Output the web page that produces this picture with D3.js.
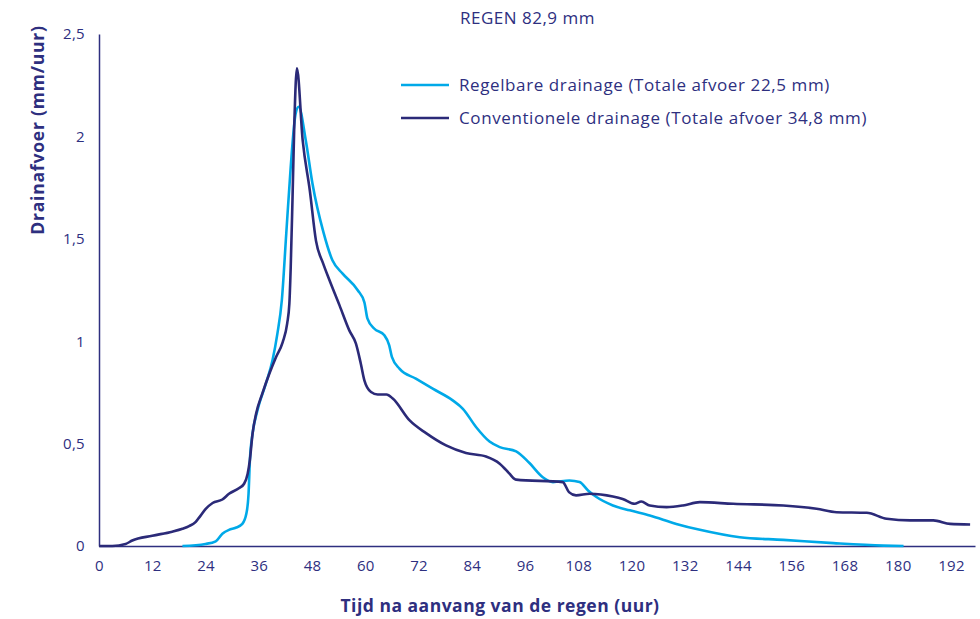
<!DOCTYPE html>
<html>
<head>
<meta charset="utf-8">
<script src="https://cdn.jsdelivr.net/npm/d3@7"></script>
<style>
  body { margin: 0; background: #fff; }
  svg { display: block; }
  text { font-family: "Open Sans", Lato, sans-serif; fill: #2e2f7f; }
</style>
</head>
<body>
<svg id="chart" width="980" height="619"></svg>
<script>
/**
 * Data.
 */
const chartTitle = 'REGEN 82,9 mm';
const xTicks = [0, 12, 24, 36, 48, 60, 72, 84, 96, 108, 120, 132, 144, 156, 168, 180, 192];
const yTicks = [0, 0.5, 1, 1.5, 2, 2.5];
const seriesNames = ['Regelbare drainage (Totale afvoer 22,5 mm)', 'Conventionele drainage (Totale afvoer 34,8 mm)'];

// Regelbare drainage
const regHours = [18.8, 24, 26.3, 27.8, 29.3, 30.8, 32.3, 33.2, 33.7, 34, 34.6, 35.7, 37.6, 39.1, 40.2, 41.2,
    42.2, 43.2, 44.3, 45, 46.6, 48.1, 50.6, 52.6, 54.9, 58.3, 59.8, 60.5, 62, 64.3, 65.4, 66, 67.7, 71.4,
    75.2, 79.7, 82, 85, 88, 90.3, 94, 97, 100, 102.3, 106, 108.3, 110.2, 112.1, 115.8, 119.6, 124.1, 130.1,
    135.4, 144.4, 154.2, 165.5, 176.7, 181.3];
const regFlow = [0, 0.01, 0.023, 0.06, 0.079, 0.089, 0.108, 0.157, 0.255, 0.418, 0.548, 0.662, 0.793, 0.907, 1.037, 1.2,
    1.526, 1.85, 2.11, 2.145, 1.98, 1.77, 1.53, 1.395, 1.33, 1.249, 1.19, 1.11, 1.062, 1.029, 0.98, 0.923, 0.866, 0.817,
    0.768, 0.711, 0.67, 0.58, 0.51, 0.483, 0.462, 0.405, 0.336, 0.312, 0.32, 0.312, 0.271, 0.239, 0.198, 0.174, 0.149, 0.108,
    0.079, 0.043, 0.03, 0.014, 0.002, 0];

// Conventionele drainage
const convHours = [0, 3, 6, 7.5, 12, 16.5, 18.8, 20.3, 21.8, 22.6, 24, 25.6, 27.8, 29.3, 31.6, 32.7, 33.5, 34,
    34.6, 35.4, 36.8, 38.4, 39.9, 41.4, 42.4, 42.9, 43.2, 43.6, 44, 44.6, 45.9, 47.5, 48.9, 50.5, 51.9, 54.2, 56.4,
    57.9, 59, 59.8, 61.3, 62.8, 64.8, 66.2, 70, 73.7, 78.2, 82.7, 87.2, 90.3, 92.5, 93.6, 94, 104.5, 105.9, 107.5,
    110.6, 115.8, 118, 120.7, 122.2, 124.1, 127.9, 131.6, 135.4, 142.9, 154.2, 161.7, 166.2, 173, 177.5, 182.8,
    188, 191.8, 196.3];
const convFlow = [0, 0, 0.01, 0.027, 0.05, 0.07, 0.084, 0.097, 0.118, 0.14, 0.18, 0.21, 0.227, 0.255, 0.283, 0.304, 0.353, 0.42,
    0.548, 0.646, 0.744, 0.842, 0.923, 0.996, 1.086, 1.185, 1.36, 1.69, 2.05, 2.332, 1.98, 1.737, 1.49, 1.38, 1.3, 1.175, 1.053,
    0.988, 0.89, 0.809, 0.752, 0.74, 0.74, 0.72, 0.613, 0.551, 0.491, 0.454, 0.437, 0.402, 0.353, 0.328, 0.324, 0.312, 0.263, 0.247,
    0.255, 0.242, 0.23, 0.206, 0.217, 0.198, 0.19, 0.198, 0.214, 0.206, 0.198, 0.182, 0.165, 0.162, 0.133, 0.125,
    0.125, 0.108, 0.105];

/**
 * Visual configs.
 */
const margin = { top: 34, right: 5, bottom: 73, left: 99 };
const visWidth = 980, visHeight = 619,
    width = visWidth - margin.left - margin.right,
    height = visHeight - margin.top - margin.bottom;

const colors = { reg: '#00a9e8', conv: '#2b2a78', text: '#2e2f7f' };

const svg = d3.select('#chart');
const g = svg.append('g').attr('transform', 'translate(' + margin.left + ',' + margin.top + ')');

const x = d3.scaleLinear().domain([0, 197.4]).range([0, width]);
const y = d3.scaleLinear().domain([0, 2.5]).range([height, 0]);

const fmt = d => String(d).replace('.', ',');

// Axes
const xAxis = g.append('g').attr('transform', 'translate(0,' + height + ')')
    .call(d3.axisBottom(x).tickValues(xTicks).tickSize(0).tickPadding(14).tickFormat(fmt));
const yAxis = g.append('g')
    .call(d3.axisLeft(y).tickValues(yTicks).tickSize(0).tickPadding(14).tickFormat(fmt));

[xAxis, yAxis].forEach(a => {
    a.select('.domain').attr('stroke', colors.text).attr('stroke-width', 1.5);
    a.selectAll('text').attr('font-size', 15).attr('fill', colors.text)
        .style('font-family', '"Open Sans", sans-serif')
        .attr('letter-spacing', 0.3);
});

// Lines
const line = d3.line()
    .x(d => x(d[0]))
    .y(d => y(d[1]))
    .curve(d3.curveMonotoneX);

const regData = regHours.map((h, i) => [h, regFlow[i]]);
const convData = convHours.map((h, i) => [h, convFlow[i]]);

g.append('path').datum(regData)
    .attr('d', line).attr('fill', 'none')
    .attr('stroke', colors.reg).attr('stroke-width', 2.6);

g.append('path').datum(convData)
    .attr('d', line).attr('fill', 'none')
    .attr('stroke', colors.conv).attr('stroke-width', 2.6);

// Titles
svg.append('text').attr('x', 460).attr('y', 24)
    .attr('font-size', 17).attr('letter-spacing', 0.5).text(chartTitle);

svg.append('text')
    .attr('x', 500).attr('y', 612)
    .attr('text-anchor', 'middle').attr('font-size', 17.5).attr('font-weight', 'bold')
    .attr('letter-spacing', 0.5)
    .text('Tijd na aanvang van de regen (uur)');

svg.append('text')
    .attr('transform', 'translate(44,130) rotate(-90)')
    .attr('text-anchor', 'middle').attr('font-size', 17.5).attr('font-weight', 'bold')
    .attr('letter-spacing', 0.8)
    .text('Drainafvoer (mm/uur)');

// Legend
const legend = svg.append('g');
[colors.reg, colors.conv].forEach((c, i) => {
    const ly = 85 + i * 33;
    legend.append('line')
        .attr('x1', 401).attr('x2', 449).attr('y1', ly).attr('y2', ly)
        .attr('stroke', c).attr('stroke-width', 2.6);
    legend.append('text')
        .attr('x', 459).attr('y', ly + 6)
        .attr('font-size', 17).attr('letter-spacing', 0.6)
        .text(seriesNames[i]);
});
</script>
</body>
</html>
